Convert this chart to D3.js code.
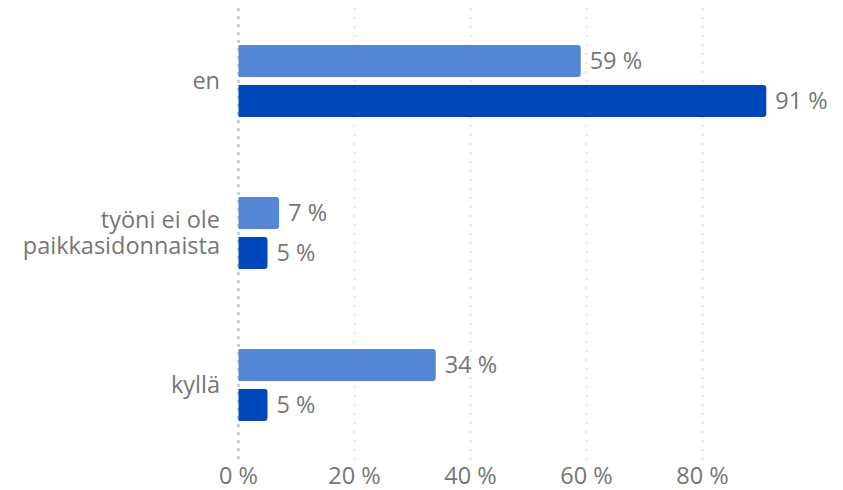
<!DOCTYPE html>
<html><head><meta charset="utf-8">
<script src="https://cdn.jsdelivr.net/npm/d3@7"></script>
<style>body{margin:0;background:#fff}svg{display:block}text{font-family:"Open Sans",sans-serif;fill:#767676}</style>
</head><body><svg id="c" width="843" height="490"></svg>
<script>
const categories = [["en"], ["työni ei ole", "paikkasidonnaista"], ["kyllä"]];
const seriesA = [59, 7, 34];
const seriesB = [91, 5, 5];
const tickValues = [0, 20, 40, 60, 80];
const colors = ["#5585D5", "#0047BB"];

const svg = d3.select("#c");
const x = d3.scaleLinear().domain([0, 100]).range([238.5, 818.5]);
const y = d3.scaleBand().domain(d3.range(categories.length)).range([5, 461]);
const inner = d3.scaleBand().domain([0, 1]).range([40, 112]).paddingInner(0.2);
const fs = 23.5;

// grid
svg.append("g").selectAll("line").data(tickValues).join("line")
  .attr("x1", d => x(d)).attr("x2", d => x(d)).attr("y1", 8).attr("y2", 462)
  .attr("stroke", d => d === 0 ? "#cfcfcf" : "#e2e2e2")
  .attr("stroke-width", d => d === 0 ? 3 : 2)
  .attr("stroke-dasharray", d => d === 0 ? "3,5" : "2,7");

// axis labels
svg.append("g").selectAll("text").data(tickValues).join("text")
  .attr("x", d => x(d)).attr("y", 484).attr("text-anchor", "middle")
  .attr("font-size", fs).text(d => d + " %");

// rounded right-end bar path
function barPath(x0, x1, y0, h, r) {
  r = Math.min(r, (x1 - x0), h / 2);
  return `M${x0},${y0}H${x1 - r}Q${x1},${y0} ${x1},${y0 + r}V${y0 + h - r}Q${x1},${y0 + h} ${x1 - r},${y0 + h}H${x0}Z`;
}

const data = [];
categories.forEach((c, i) => {
  [seriesA[i], seriesB[i]].forEach((v, j) => data.push({ i, j, v }));
});

svg.append("g").selectAll("path").data(data).join("path")
  .attr("d", d => barPath(x(0), x(d.v), y(d.i) + inner(d.j), inner.bandwidth(), 3))
  .attr("fill", d => colors[d.j]);

svg.append("g").selectAll("text").data(data).join("text")
  .attr("x", d => x(d.v) + 9).attr("y", d => y(d.i) + inner(d.j) + inner.bandwidth() / 2 + 8)
  .attr("font-size", fs).text(d => d.v + " %");

// category labels
const cl = svg.append("g").selectAll("text").data(categories).join("text")
  .attr("text-anchor", "end").attr("font-size", fs);
cl.each(function (lines, i) {
  const cy = y(i) + y.bandwidth() / 2;
  const lh = 26;
  const start = cy - (lines.length - 1) * lh / 2 + 8;
  d3.select(this).selectAll("tspan").data(lines).join("tspan")
    .attr("x", 220).attr("y", (d, k) => start + k * lh).text(d => d);
});
</script></body></html>
